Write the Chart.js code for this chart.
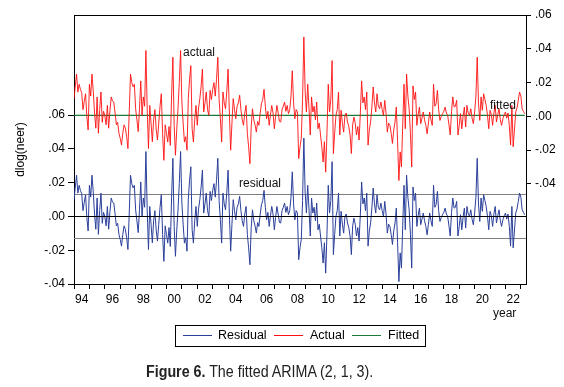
<!DOCTYPE html>
<html>
<head>
<meta charset="utf-8">
<script src="https://cdn.jsdelivr.net/npm/chart.js@4.4.0/dist/chart.umd.min.js"></script>
<style>
  body { margin: 0; background: #fff; }
  #wrap { position: relative; width: 564px; height: 387px; font-family: "Liberation Sans", Arial, sans-serif; color: #000; }
  #chart { position: absolute; left: 0; top: 0; }
  .note { position: absolute; font-size: 12px; line-height: 12px; color: #111; white-space: nowrap; }
  #legend { position: absolute; left: 175px; top: 325px; width: 251px; height: 22px; border: 1px solid #000; box-sizing: border-box; font-size: 12.5px; }
  #legend .lb { position: absolute; top: 3px; line-height: 13px; white-space: nowrap; }
  #caption { position: absolute; left: 146px; top: 362px; font-family: "Liberation Sans", Arial, sans-serif; font-size: 17.4px; line-height: 18px; color: #222; white-space: nowrap; transform: scaleX(0.82); transform-origin: 0 0; }
</style>
</head>
<body>
<div id="wrap">
  <canvas id="chart" width="564" height="387"></canvas>
  <div class="note" style="left:183px; top:46px;">actual</div>
  <div class="note" style="left:490px; top:99px;">fitted</div>
  <div class="note" style="left:239px; top:177px;">residual</div>
  <div class="note" style="left:493px; top:307px;">year</div>
  <div id="legend">
    <div class="lb" style="left:42px;">Residual</div>
    <div class="lb" style="left:134px;">Actual</div>
    <div class="lb" style="left:212px;">Fitted</div>
  </div>
  <div id="caption"><b>Figure 6.</b> The fitted ARIMA (2, 1, 3).</div>
</div>
<script>
// monthly dlog(neer), 1994M01 - 2023M04
const startYear = 1994;
const actual = [
  0.0105, 0.018, 0.025, 0.0144, 0.019, 0.016, 0.014, 0.004, 0.009, 0.0134, 0.000, -0.008,      // 1994
  0.019, 0.012, 0.025, 0.015, 0.002, -0.007, 0.0115, -0.010, 0.004, 0.0144, -0.0035, 0.003,    // 1995
  0.0005, -0.005, 0.0065, -0.007, 0.0035, 0.0115, 0.009, 0.0085, 0.002, -0.005, -0.0035, -0.010, // 1996
  -0.013, -0.017, -0.010, -0.005, -0.007, -0.012, -0.019, 0.002, 0.025, 0.020, 0.0175, 0.019,  // 1997
  0.0045, -0.002, -0.009, 0.0045, 0.021, 0.0005, 0.0115, 0.006, 0.039, 0.0045, -0.019, 0.0065, // 1998
  -0.004, -0.015, -0.002, 0.004, -0.0075, -0.014, -0.004, 0.006, 0.0134, -0.010, -0.026, -0.005, // 1999
  -0.010, -0.0152, -0.006, -0.0172, 0.012, 0.035, -0.0053, -0.023, -0.008, 0.0045, 0.020, 0.039, // 2000
  0.0085, -0.004, -0.0152, -0.012, -0.020, 0.0105, 0.022, 0.030, -0.0073, -0.0152, -0.002, 0.0065, // 2001
  -0.0053, 0.005, 0.0105, 0.018, 0.028, 0.0026, 0.008, 0.0144, 0.004, 0.0006, 0.0154, 0.010,  // 2002
  0.016, 0.020, 0.012, 0.022, 0.035, 0.010, -0.0014, -0.0152, 0.0144, 0.008, 0.0045, 0.015,   // 2003
  0.028, 0.002, -0.020, -0.004, 0.0105, 0.004, -0.0014, 0.006, 0.008, 0.0125, 0.004, -0.002,  // 2004
  -0.0053, 0.002, 0.0065, -0.010, -0.018, -0.028, -0.006, 0.0045, -0.002, -0.005, -0.0093, -0.003, // 2005
  -0.0053, 0.002, 0.0075, 0.010, 0.016, 0.006, -0.0014, 0.003, -0.0053, 0.001, 0.0065, 0.002, // 2006
  -0.0073, 0.000, 0.0065, 0.002, -0.003, -0.0033, 0.004, 0.006, 0.0085, 0.003, 0.0065, 0.0016, // 2007
  0.004, 0.012, 0.027, 0.008, -0.0014, 0.004, 0.0026, -0.025, -0.018, -0.013, 0.010, 0.047,   // 2008
  0.015, 0.0026, 0.019, 0.005, -0.011, 0.0115, 0.0026, 0.006, -0.002, 0.0085, -0.0073, -0.004, // 2009
  -0.011, -0.018, -0.027, -0.015, -0.033, -0.010, 0.019, 0.0026, 0.010, 0.033, -0.022, -0.010, // 2010
  0.0006, 0.004, 0.0144, -0.011, 0.0036, -0.004, -0.0093, 0.0006, 0.002, -0.0033, -0.006, -0.011, // 2011
  -0.022, -0.005, -0.0004, -0.004, -0.011, -0.006, -0.014, 0.002, 0.021, 0.008, 0.0115, 0.004, // 2012
  0.0144, -0.017, -0.008, -0.0033, 0.006, 0.0174, 0.008, 0.0026, 0.0134, 0.006, 0.0045, 0.0085, // 2013
  0.004, 0.0006, 0.0095, 0.002, -0.0093, -0.004, -0.0053, -0.010, -0.016, -0.008, -0.0033, 0.0055, // 2014
  -0.015, -0.038, -0.021, -0.030, -0.005, 0.019, -0.0073, 0.025, 0.012, 0.0045, -0.010, -0.030, // 2015
  0.018, 0.010, 0.0144, -0.0053, 0.001, 0.0055, -0.0043, -0.001, 0.0026, -0.002, -0.0053, -0.0103, // 2016
  -0.004, 0.0026, -0.002, -0.0053, 0.019, 0.006, 0.0075, 0.0154, 0.004, -0.0024, 0.000, 0.0016, // 2017
  0.003, 0.0055, 0.002, 0.0006, -0.005, -0.011, 0.003, 0.0115, 0.0055, 0.006, 0.0095, -0.011, // 2018
  -0.0053, 0.0016, -0.0073, 0.000, 0.0055, -0.0063, 0.0065, 0.002, 0.0006, 0.0045, -0.001, -0.0043, // 2019
  0.0026, 0.012, 0.035, 0.008, -0.0024, 0.0115, 0.0036, 0.0134, 0.010, 0.0065, 0.0006, -0.0073, // 2020
  0.0036, 0.001, -0.0053, 0.002, 0.0065, -0.0033, 0.001, 0.0045, -0.002, -0.0053, -0.0014, 0.001, // 2021
  0.0026, -0.001, 0.002, -0.0053, -0.017, 0.0065, -0.018, -0.008, 0.0026, 0.005, 0.0095, 0.0144, // 2022
  0.012, 0.0045, 0.003, 0.0016                                                                   // 2023
];
// fitted value is practically flat in the figure
const fittedLevel = 0.0006;
// +/- 1 s.e. band drawn around the residual zero line
const residualSd = 0.013;

const yearLabels = ['94','96','98','00','02','04','06','08','10','12','14','16','18','20','22'];
const leftTicks = [-0.04, -0.02, 0, 0.02, 0.04, 0.06];
const rightTicks = [-0.04, -0.02, 0, 0.02, 0.04, 0.06];

const dates = actual.map((v, i) => startYear + i / 12);
const residual = actual.map(v => v - fittedLevel);

const fontFamily = '"Liberation Sans", Arial, sans-serif';

function fmtTick(v) {
  if (Math.abs(v) < 1e-9) return '.00';
  const s = Math.abs(v).toFixed(2).replace(/^0/, '');
  return (v < 0 ? '-' : '') + s;
}

// left x of each legend swatch, one per dataset
const legendSwatchX = [183, 274, 352];

const refLines = {
  id: 'refLines',
  beforeDatasetsDraw(chart) {
    const { ctx, chartArea: a, scales } = chart;
    ctx.save();
    ctx.lineWidth = 1;
    ctx.strokeStyle = '#808080';
    [residualSd, -residualSd].forEach(v => {
      const y = Math.round(scales.yLeft.getPixelForValue(v)) + 0.5;
      ctx.beginPath(); ctx.moveTo(a.left, y); ctx.lineTo(a.right, y); ctx.stroke();
    });
    ctx.restore();
  },
  afterDatasetsDraw(chart) {
    const { ctx, chartArea: a, scales } = chart;
    ctx.save();
    ctx.lineWidth = 1;
    ctx.strokeStyle = '#000';
    const y0 = Math.round(scales.yLeft.getPixelForValue(0)) + 0.5;
    ctx.beginPath(); ctx.moveTo(a.left, y0); ctx.lineTo(a.right, y0); ctx.stroke();
    // top edge of the frame
    ctx.beginPath(); ctx.moveTo(a.left, Math.round(a.top) + 0.5); ctx.lineTo(a.right, Math.round(a.top) + 0.5); ctx.stroke();
    ctx.restore();
  },
  afterDraw(chart) {
    // legend swatches in the dataset colours
    const { ctx } = chart;
    ctx.save();
    ctx.lineWidth = 1;
    chart.data.datasets.forEach((ds, i) => {
      ctx.strokeStyle = ds.borderColor;
      ctx.beginPath(); ctx.moveTo(legendSwatchX[i], 335.5); ctx.lineTo(legendSwatchX[i] + 29, 335.5); ctx.stroke();
    });
    ctx.restore();
  }
};

new Chart(document.getElementById('chart'), {
  type: 'line',
  data: {
    datasets: [
      {
        label: 'Residual',
        data: dates.map((x, i) => ({ x, y: residual[i] })),
        yAxisID: 'yLeft',
        borderColor: '#2a3f9a',
        borderWidth: 1,
      },
      {
        label: 'Actual',
        data: dates.map((x, i) => ({ x, y: actual[i] })),
        yAxisID: 'yRight',
        borderColor: '#ff1010',
        borderWidth: 0.9,
      },
      {
        label: 'Fitted',
        data: dates.map(x => ({ x, y: fittedLevel })),
        yAxisID: 'yRight',
        borderColor: '#1b7a3a',
        borderWidth: 1.2,
      },
    ],
  },
  options: {
    responsive: false,
    animation: false,
    layout: { padding: { left: 0, right: 0, top: 15, bottom: 77 } },
    elements: { point: { radius: 0 }, line: { tension: 0 } },
    plugins: { legend: { display: false }, tooltip: { enabled: false } },
    scales: {
      x: {
        type: 'linear',
        min: startYear,
        max: startYear + actual.length / 12,
        afterBuildTicks: s => {
          const t = [];
          for (let y = startYear; y <= s.max; y++) t.push({ value: y });
          yearLabels.forEach((l, i) => t.push({ value: startYear + 0.5 + 2 * i }));
          t.sort((a, b) => a.value - b.value);
          s.ticks = t;
        },
        afterFit: s => { s.height = 26; },
        grid: {
          drawOnChartArea: false,
          tickLength: 5,
          color: c => (c.tick && Number.isInteger(c.tick.value)) ? '#000' : 'rgba(0,0,0,0)',
        },
        border: { display: true, color: '#000' },
        ticks: {
          autoSkip: false,
          maxRotation: 0,
          padding: 3,
          color: '#000',
          font: { family: fontFamily, size: 12 },
          callback: v => {
            const i = (v - startYear - 0.5) / 2;
            return Number.isInteger(i) ? yearLabels[i] : '';
          },
        },
      },
      yLeft: {
        type: 'linear',
        position: 'left',
        min: -0.04,
        max: 0.1192,
        afterBuildTicks: s => { s.ticks = leftTicks.map(v => ({ value: v })); },
        afterFit: s => { s.width = 74; },
        grid: { drawOnChartArea: false, tickLength: 6, color: '#000' },
        border: { display: true, color: '#000' },
        ticks: { padding: 3, color: '#000', font: { family: fontFamily, size: 12 }, callback: fmtTick },
        title: {
          display: true,
          text: 'dlog(neer)',
          color: '#000',
          font: { family: fontFamily, size: 12 },
          padding: { top: 13, bottom: 0 },
        },
      },
      yRight: {
        type: 'linear',
        position: 'right',
        min: -0.0992,
        max: 0.06,
        afterBuildTicks: s => { s.ticks = rightTicks.map(v => ({ value: v })); },
        afterFit: s => { s.width = 38; },
        grid: { drawOnChartArea: false, tickLength: 5, color: '#000' },
        border: { display: true, color: '#000' },
        ticks: { padding: 4, color: '#000', font: { family: fontFamily, size: 12 }, callback: fmtTick },
      },
    },
  },
  plugins: [refLines],
});
</script>
</body>
</html>
